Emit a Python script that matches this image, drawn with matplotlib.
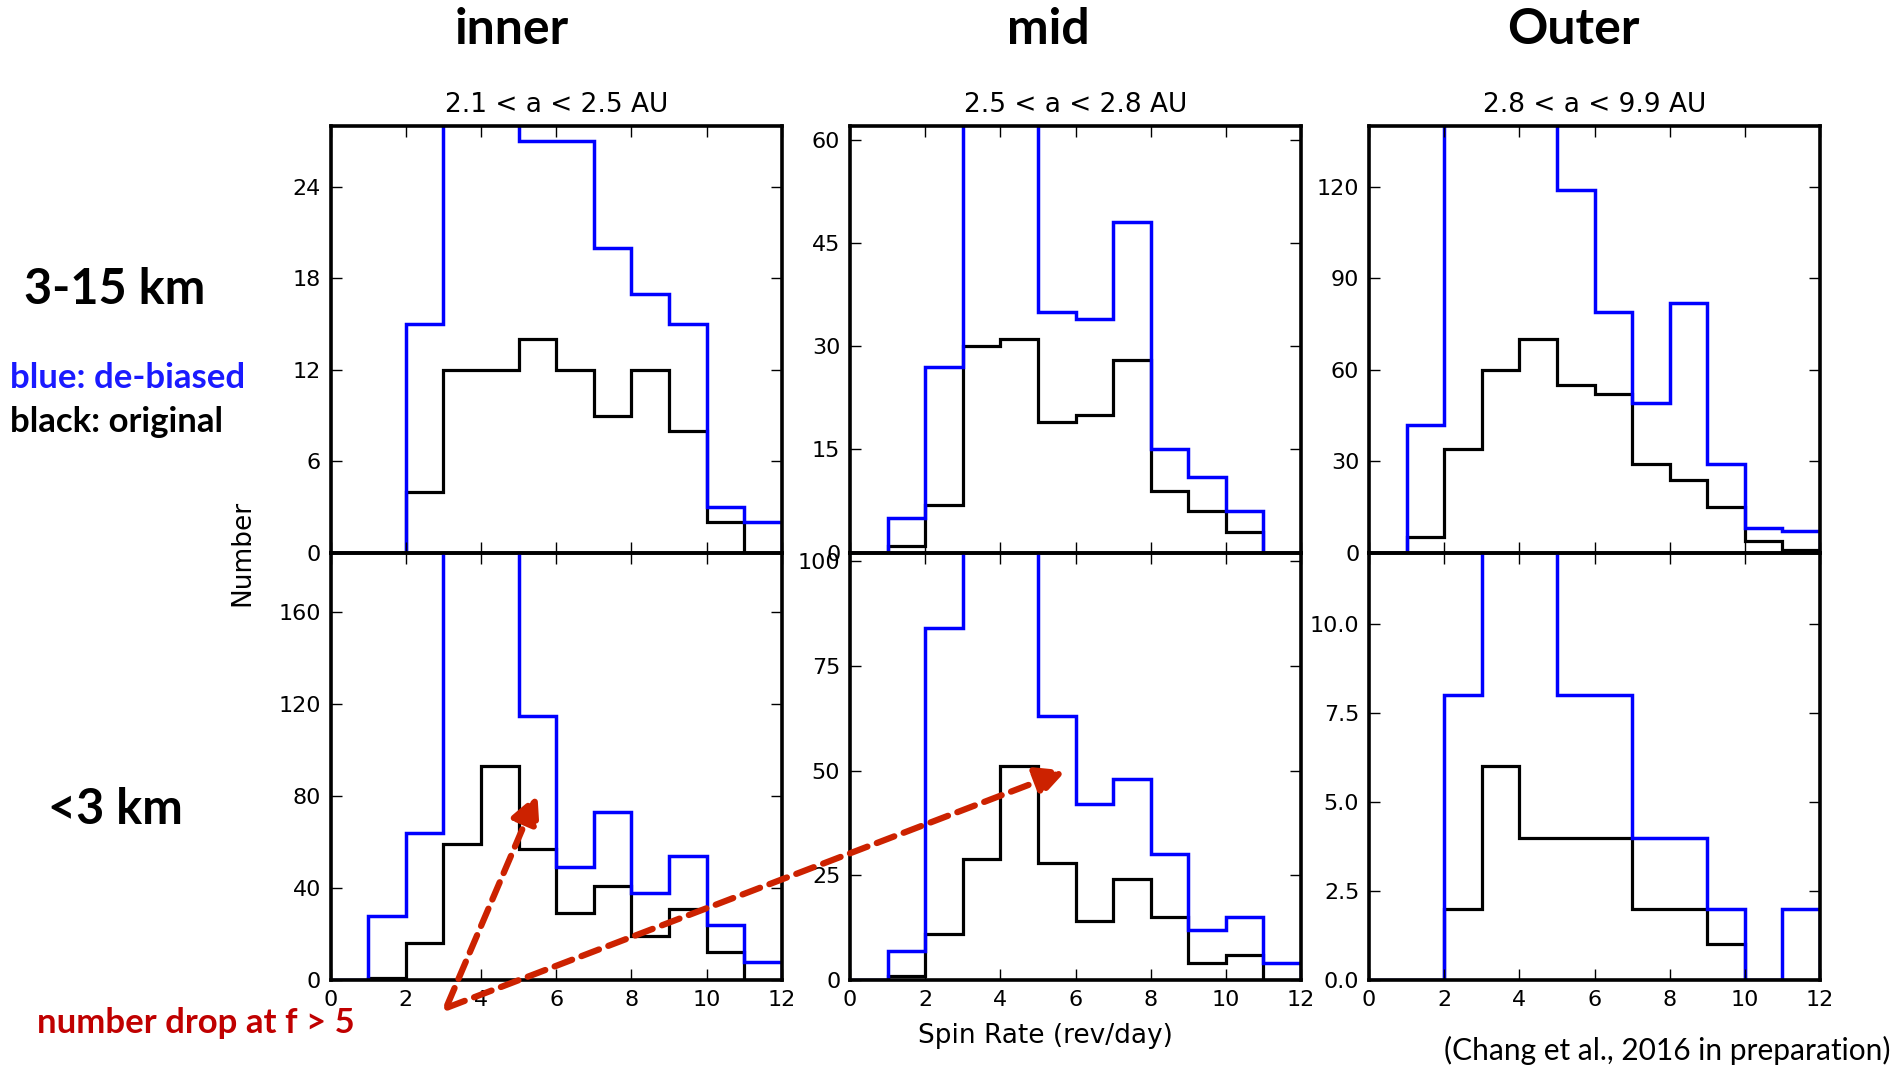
import numpy as np
import matplotlib.pyplot as plt
from matplotlib.text import Annotation

# spin rate bins (rev/day)
edges = np.arange(0, 13)

zones = ["inner", "mid", "Outer"]
ranges = ["2.1 < a < 2.5 AU", "2.5 < a < 2.8 AU", "2.8 < a < 9.9 AU"]

# 3-15 km, original (black) and de-biased (blue)
big_orig = [
    [0, 0, 4, 12, 12, 14, 12, 9, 12, 8, 2, 0],
    [0, 1, 7, 30, 31, 19, 20, 28, 9, 6, 3, 0],
    [0, 5, 34, 60, 70, 55, 52, 29, 24, 15, 4, 1],
]
big_deb = [
    [0, 0, 15, 40, 36, 27, 27, 20, 17, 15, 3, 2],
    [0, 5, 27, 80, 75, 35, 34, 48, 15, 11, 6, 0],
    [0, 42, 180, 170, 160, 119, 79, 49, 82, 29, 8, 7],
]

# <3 km
small_orig = [
    [0, 1, 16, 59, 93, 57, 29, 41, 19, 31, 12, 0],
    [0, 1, 11, 29, 51, 28, 14, 24, 15, 4, 6, 0],
    [0, 0, 2, 6, 4, 4, 4, 2, 2, 1, 0, 0],
]
small_deb = [
    [0, 28, 64, 300, 250, 115, 49, 73, 38, 54, 24, 8],
    [0, 7, 84, 160, 140, 63, 42, 48, 30, 12, 15, 4],
    [0, 0, 8, 20, 16, 8, 8, 4, 4, 2, 0, 2],
]

big_yticks = [[0, 6, 12, 18, 24], [0, 15, 30, 45, 60], [0, 30, 60, 90, 120]]
small_yticks = [[0, 40, 80, 120, 160], [0, 25, 50, 75, 100], [0, 2.5, 5, 7.5, 10]]
xticks = [0, 2, 4, 6, 8, 10, 12]

W, H = 1897, 1068
fig = plt.figure(figsize=(W / 100, H / 100), dpi=100)
plt.rcParams['font.family'] = ['DejaVu Sans']

lefts = [330.7, 850, 1369]
aw = 451 / W
label_font = ['Lato', 'DejaVu Sans']
red = '#cc2200'


def style(ax, yt, ymax, show_x):
    ax.set_xlim(0, 12)
    ax.set_ylim(0, ymax)
    ax.set_xticks(xticks)
    ax.set_yticks(yt)
    ax.tick_params(direction='in', top=True, right=True, length=8, width=1,
                   labelsize=16, pad=7, labelbottom=show_x)
    for s in ax.spines.values():
        s.set_linewidth(2.6)
    ax.set_facecolor('none')


axes_top, axes_bot = [], []
for i in range(3):
    ax = fig.add_axes([lefts[i] / W, 1 - 552.7 / H, aw, 426.7 / H])
    ax.stairs(big_orig[i], edges, color='k', lw=2.3, baseline=0)
    ax.stairs(big_deb[i], edges, color='b', lw=2.5, baseline=0)
    style(ax, big_yticks[i], 2 * max(big_orig[i]), False)
    ax.set_title(ranges[i], fontsize=19, pad=10)
    axes_top.append(ax)

    ax = fig.add_axes([lefts[i] / W, 1 - 980 / H, aw, 427.3 / H])
    ax.stairs(small_orig[i], edges, color='k', lw=2.3, baseline=0)
    ax.stairs(small_deb[i], edges, color='b', lw=2.5, baseline=0)
    style(ax, small_yticks[i], 2 * max(small_orig[i]), True)
    axes_bot.append(ax)

fig.text(242 / W, 1 - 553 / H, "Number", rotation=90, fontsize=19,
         ha='center', va='center')
fig.text(1045 / W, 1 - 1036 / H, "Spin Rate (rev/day)", fontsize=19,
         ha='center', va='center')

# column headers
for x, name in zip([512, 1048, 1573], zones):
    fig.text(x / W, 1 - 29 / H, name, fontsize=36, fontweight='bold',
             family=label_font, ha='center', va='center')

fig.text(115 / W, 1 - 290 / H, "3-15 km", fontsize=35, fontweight='bold',
         family=label_font, ha='center', va='center')
fig.text(115 / W, 1 - 809 / H, "<3 km", fontsize=35, fontweight='bold',
         family=label_font, ha='center', va='center')
fig.text(10 / W, 1 - 388 / H, "blue: de-biased", fontsize=25, fontweight='bold',
         family=label_font, color='#1a1aff', ha='left', va='baseline')
fig.text(10 / W, 1 - 432 / H, "black: original", fontsize=25, fontweight='bold',
         family=label_font, color='k', ha='left', va='baseline')
fig.text(37 / W, 1 - 1033 / H, "number drop at f > 5", fontsize=25,
         fontweight='bold', family=label_font, color='#c00000',
         ha='left', va='baseline')
fig.text(1891 / W, 1 - 1060 / H, "(Chang et al., 2016 in preparation)",
         fontsize=21.5, family=label_font, ha='right', va='baseline')

# dashed arrows pointing at the drop after 5 rev/day
arrow_kw = dict(arrowstyle='-|>', color=red, lw=4.5, linestyle=(0, (3, 1.6)),
                mutation_scale=44, shrinkA=0, shrinkB=0)
a1 = Annotation('', xy=(5.5, 81), xycoords=axes_bot[0].transData,
                xytext=(3.1, -11), textcoords=axes_bot[0].transData,
                arrowprops=arrow_kw)
a2 = Annotation('', xy=(5.75, 50), xycoords=axes_bot[1].transData,
                xytext=(3.1, -12), textcoords=axes_bot[0].transData,
                arrowprops=arrow_kw)
fig.add_artist(a1)
fig.add_artist(a2)

fig.savefig('out.png', dpi=100, facecolor='white')
